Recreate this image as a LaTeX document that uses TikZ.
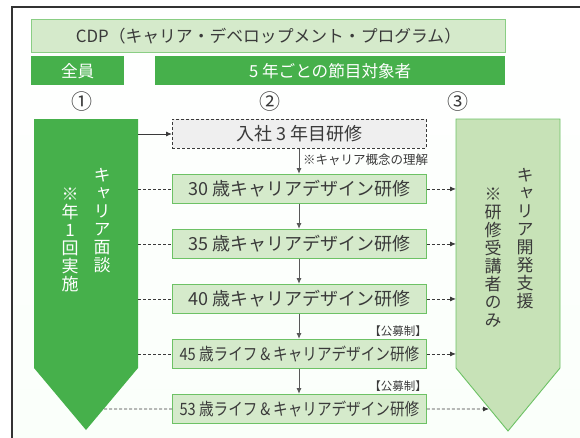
\documentclass[tikz,border=0pt]{standalone}
\usepackage{fontspec}
\setmainfont{Noto Sans CJK JP}
\newfontfamily\vjp[RawFeature=+vert]{Noto Sans CJK JP}
\newfontfamily\condjp[FakeStretch=0.86]{Noto Sans CJK JP}
\usetikzlibrary{arrows.meta}
\definecolor{dgreen}{HTML}{46B04B}
\definecolor{lgreen}{HTML}{D5EACB}
\definecolor{lborder}{HTML}{6DC265}
\definecolor{rfill}{HTML}{C7E2B7}
\definecolor{txt}{HTML}{3A3A3A}
\definecolor{grayfill}{HTML}{EFEFEF}
\definecolor{framec}{HTML}{333333}
\newcommand\fsz[1]{\fontsize{#1}{#1}\selectfont}
\newcommand\vsz{\vjp\fontsize{17}{18}\selectfont}
\tikzset{
  greenbar/.style={fill=dgreen, draw=none, text=white, inner sep=0pt, anchor=north west, font=\fsz{16.6}},
  stepbox/.style={fill=lgreen, draw=lborder, line width=0.9pt, text=txt, inner sep=0pt, anchor=north west, minimum width=254pt, minimum height=29pt},
  dashbox/.style={fill=grayfill, draw=txt, line width=0.8pt, dash pattern=on 3pt off 2pt, text=txt, inner sep=0pt, anchor=north west, minimum width=254pt, minimum height=29pt},
  dline/.style={draw=txt, line width=0.8pt, dash pattern=on 3pt off 2pt},
  darr/.style={dline, -{Latex[length=6pt,width=5pt]}},
  varr/.style={draw=txt!85, line width=1pt, -{Latex[length=6pt,width=5pt]}},
  small/.style={text=txt, inner sep=0pt},
  vtext/.style={align=center, inner sep=0pt, anchor=north, font=\vsz},
}
\begin{document}
\begin{tikzpicture}[x=1pt,y=-1pt]
\useasboundingbox (0,0) rectangle (580,437);
\fill[white] (0,0) rectangle (580,437);
\shade[top color=white, bottom color=black!3!green!2!white] (12,7) rectangle (585,440);
\draw[framec, line width=1.3pt] (12,445) -- (12,7) -- (590,7);

% header
\node[fill=lgreen, draw=lborder!80, line width=0.9pt, text=txt, inner sep=0pt, anchor=north west,
  minimum width=474pt, minimum height=33pt, font=\fsz{16.8}] (title) at (31,19) {CDP（キャリア・デベロップメント・プログラム）};
\node[greenbar, minimum width=93pt, minimum height=29pt] (all) at (31,56) {全員};
\node[greenbar, minimum width=350pt, minimum height=29pt] (five) at (155,56) {5 年ごとの節目対象者};
\node[small, font=\fsz{21}] (n1) at (82,102) {①};
\node[small, font=\fsz{21}] (n2) at (270,102) {②};
\node[small, font=\fsz{21}] (n3) at (458,102) {③};

% left pentagon
\fill[dgreen] (34,119) -- (138,119) -- (138,368) -- (86,430) -- (34,368) -- cycle;
\node[inner sep=0pt, minimum width=104pt, minimum height=249pt, anchor=north west] (lp) at (34,119) {};
\node[vtext, text=white] (lt1) at (102,168) {キ\\ャ\\リ\\ア\\面\\談};
\node[vtext, text=white] (lt2) at (70,188) {※\\年\\1\\回\\実\\施};

% right pentagon
\filldraw[fill=rfill, draw=lborder, line width=0.9pt] (456,119) -- (560,119) -- (560,368) -- (508,431) -- (456,368) -- cycle;
\node[inner sep=0pt, minimum width=104pt, minimum height=249pt, anchor=north west] (rp) at (456,119) {};
\node[vtext, text=txt] (rt1) at (525,168) {キ\\ャ\\リ\\ア\\開\\発\\支\\援};
\node[vtext, text=txt] (rt2) at (493,188) {※\\研\\修\\受\\講\\者\\の\\み};

% steps
\node[dashbox, font=\fsz{18}] (b3) at (172,119) {入社 3 年目研修};
\node[stepbox, font=\fsz{18}] (b30) at (172,174) {30 歳キャリアデザイン研修};
\node[stepbox, font=\fsz{18}] (b35) at (172,229) {35 歳キャリアデザイン研修};
\node[stepbox, font=\fsz{18}] (b40) at (172,284) {40 歳キャリアデザイン研修};
\node[stepbox, font=\condjp\fsz{17}] (b45) at (172,339) {45 歳ライフ\,\&\,キャリアデザイン研修};
\node[stepbox, font=\condjp\fsz{17}] (b53) at (172,394) {53 歳ライフ\,\&\,キャリアデザイン研修};

\node[small, font=\fsz{12.5}, anchor=west] (note) at (303,160) {※キャリア概念の理解};
\node[small, font=\fsz{11.5}, anchor=east] (k45) at (427,331) {【公募制】};
\node[small, font=\fsz{11.5}, anchor=east] (k53) at (427,386) {【公募制】};

% vertical arrows
\draw[varr] (b3.south -| 299,0) -- (b30.north -| 299,0);
\draw[varr] (b30.south -| 299,0) -- (b35.north -| 299,0);
\draw[varr] (b35.south -| 299,0) -- (b40.north -| 299,0);
\draw[varr] (b40.south -| 299,0) -- (b45.north -| 299,0);
\draw[varr] (b45.south -| 299,0) -- (b53.north -| 299,0);

% left connectors
\draw[draw=txt, line width=0.9pt, -{Latex[length=6pt,width=5pt]}] (lp.east |- 0,134) -- (b3.west |- 0,134);
\draw[dline] (lp.east |- b30.west) -- (b30.west);
\draw[dline] (lp.east |- b35.west) -- (b35.west);
\draw[dline] (lp.east |- b40.west) -- (b40.west);
\draw[dline] (lp.east |- b45.west) -- (b45.west);
\coordinate (l53) at (104,409);
\draw[dline] (l53) -- (b53.west);

% right connectors
\draw[darr] (b30.east) -- (rp.west |- b30.east);
\draw[darr] (b35.east) -- (rp.west |- b35.east);
\draw[darr] (b40.east) -- (rp.west |- b40.east);
\draw[darr] (b45.east) -- (rp.west |- b45.east);
\coordinate (r53) at (489,409);
\draw[darr] (b53.east) -- (r53);
\end{tikzpicture}
\end{document}
